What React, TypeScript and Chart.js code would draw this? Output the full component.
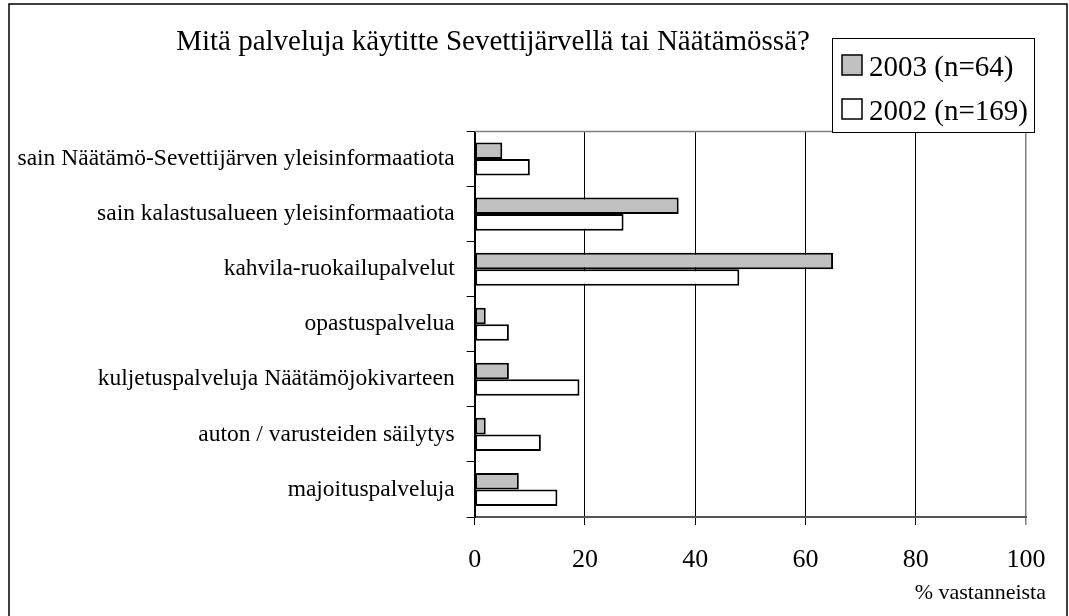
import React, { useEffect, useRef } from "react";
import { Chart, registerables } from "chart.js";

Chart.register(...registerables);

const FONT = '"Liberation Serif", "Times New Roman", serif';

const titleText = "Mitä palveluja käytitte Sevettijärvellä tai Näätämössä?";
const axisLabel = "% vastanneista";

const categories = [
  "sain Näätämö-Sevettijärven yleisinformaatiota",
  "sain kalastusalueen yleisinformaatiota",
  "kahvila-ruokailupalvelut",
  "opastuspalvelua",
  "kuljetuspalveluja Näätämöjokivarteen",
  "auton / varusteiden säilytys",
  "majoituspalveluja",
];

const seriesNames = ["2003 (n=64)", "2002 (n=169)"];
const values2003 = [5, 37, 65, 2, 6.2, 2, 8];
const values2002 = [10, 27, 48, 6.2, 19, 12, 15];
const seriesColors = ["#c0c0c0", "#ffffff"];
const xTicks = [0, 20, 40, 60, 80, 100];

const decorPlugin = {
  id: "decor",
  afterDraw(chart: any) {
    const ctx = chart.ctx;
    const area = chart.chartArea;
    ctx.save();
    // outer frame
    ctx.strokeStyle = "#000";
    ctx.lineWidth = 1.5;
    ctx.strokeRect(9, 4, 1058, 620);
    // plot top frame
    ctx.strokeStyle = "#808080";
    ctx.lineWidth = 1.5;
    ctx.beginPath();
    ctx.moveTo(area.left, area.top);
    ctx.lineTo(area.right, area.top);
    ctx.stroke();
    // title
    ctx.fillStyle = "#000";
    ctx.font = `29px ${FONT}`;
    ctx.textAlign = "center";
    ctx.textBaseline = "alphabetic";
    ctx.fillText(titleText, 493, 50);
    // axis label
    ctx.font = `22px ${FONT}`;
    ctx.textAlign = "right";
    ctx.fillText(axisLabel, 1046, 599);
    // legend box
    const bx = 832.5, by = 38.5, bw = 202, bh = 94;
    ctx.fillStyle = "#fff";
    ctx.fillRect(bx, by, bw, bh);
    ctx.strokeStyle = "#000";
    ctx.lineWidth = 1;
    ctx.strokeRect(bx, by, bw, bh);
    const rows = [65, 109];
    seriesNames.forEach((name, i) => {
      const cy = rows[i];
      ctx.fillStyle = seriesColors[i];
      ctx.fillRect(842, cy - 10, 20, 20);
      ctx.strokeStyle = "#000";
      ctx.lineWidth = 1.5;
      ctx.strokeRect(842, cy - 10, 20, 20);
      ctx.fillStyle = "#000";
      ctx.font = `29px ${FONT}`;
      ctx.textAlign = "left";
      ctx.textBaseline = "alphabetic";
      ctx.fillText(name, 869, cy + 11);
    });
    ctx.restore();
  },
};

export default function App() {
  const ref = useRef<HTMLCanvasElement | null>(null);
  useEffect(() => {
    if (!ref.current) return;
    const chart = new Chart(ref.current, {
      type: "bar",
      data: {
        labels: categories,
        datasets: [
          {
            label: seriesNames[0],
            data: values2003,
            backgroundColor: seriesColors[0],
            borderColor: "#000",
            borderWidth: 2,
            borderSkipped: false,
          },
          {
            label: seriesNames[1],
            data: values2002,
            backgroundColor: seriesColors[1],
            borderColor: "#000",
            borderWidth: 2,
            borderSkipped: false,
          },
        ],
      },
      options: {
        indexAxis: "y",
        responsive: false,
        animation: false,
        maintainAspectRatio: false,
        datasets: { bar: { barPercentage: 1, categoryPercentage: 0.6 } },
        layout: { padding: { top: 131.5, left: 0, right: 43, bottom: 0 } },
        plugins: {
          legend: { display: false },
          title: { display: false },
          tooltip: { enabled: false },
        },
        scales: {
          x: {
            min: 0,
            max: 100,
            afterBuildTicks: (scale: any) => {
              scale.ticks = xTicks.map((v) => ({ value: v }));
            },
            afterFit: (scale: any) => {
              scale.height = 99;
            },
            ticks: {
              color: "#000",
              font: { family: FONT, size: 26 },
              padding: 20,
              maxRotation: 0,
            },
            grid: {
              color: (c: any) => (c.index === xTicks.length - 1 ? "#808080" : "#000"),
              lineWidth: (c: any) => (c.index === xTicks.length - 1 ? 1.5 : 1),
              tickLength: 8,
              drawOnChartArea: true,
            },
            border: { color: "#555", width: 2 },
          },
          y: {
            afterFit: (scale: any) => {
              scale.width = 474.7;
            },
            ticks: {
              color: "#000",
              font: { family: FONT, size: 23.5 },
              padding: 12,
              autoSkip: false,
            },
            grid: {
              offset: true,
              drawOnChartArea: false,
              tickLength: 8,
              color: "#000",
              lineWidth: 1,
            },
            border: { color: "#000", width: 2 },
          },
        },
      },
      plugins: [decorPlugin],
    });
    return () => chart.destroy();
  }, []);
  return (
    <div style={{ position: "absolute", left: 0, top: 0, width: 1069, height: 616, background: "#fff" }}>
      <canvas ref={ref} width={1069} height={616} style={{ display: "block", width: 1069, height: 616 }} />
    </div>
  );
}
